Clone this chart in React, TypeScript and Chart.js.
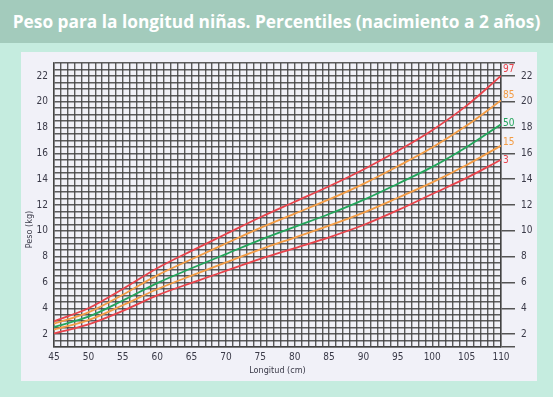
import { useEffect, useRef } from 'react';
import { Chart, registerables } from 'chart.js';

Chart.register(...registerables);

// Length (cm)
const lengths = [45, 50, 55, 60, 65, 70, 75, 80, 85, 90, 95, 100, 105, 110];
// Weight (kg) percentiles
const p3 = [2.05, 2.75, 3.8, 5.0, 5.97, 6.9, 7.82, 8.66, 9.5, 10.45, 11.6, 12.85, 14.1, 15.5];
const p15 = [2.35, 3.08, 4.23, 5.47, 6.53, 7.55, 8.56, 9.48, 10.4, 11.41, 12.56, 13.75, 15.1, 16.6];
const p50 = [2.55, 3.35, 4.6, 5.95, 7.1, 8.2, 9.3, 10.3, 11.3, 12.4, 13.65, 14.95, 16.5, 18.25];
const p85 = [2.8, 3.68, 5.05, 6.55, 7.8, 9.02, 10.23, 11.33, 12.43, 13.64, 15.0, 16.45, 18.15, 20.1];
const p97 = [3.0, 4.0, 5.5, 7.1, 8.45, 9.75, 11.05, 12.25, 13.45, 14.75, 16.2, 17.8, 19.7, 22.0];

const seriesNames = ['3', '15', '50', '85', '97'];
const seriesValues = [p3, p15, p50, p85, p97];
const seriesColors = ['#e8434b', '#f39c45', '#22a55b', '#f39c45', '#e8434b'];
const labelOffsets = [1, -3, -1, -5, -7];

const xTickLabels = [45, 50, 55, 60, 65, 70, 75, 80, 85, 90, 95, 100, 105, 110];
const yTickLabels = [2, 4, 6, 8, 10, 12, 14, 16, 18, 20, 22];

const TITLE = 'Peso para la longitud niñas. Percentiles (nacimiento a 2 años)';
const Y_TITLE = 'Peso (kg)';
const X_TITLE = 'Longitud (cm)';
const NARROW = "'Liberation Sans Narrow', 'DejaVu Sans Condensed', 'Liberation Sans', sans-serif";

export default function App() {
  const ref = useRef<HTMLCanvasElement>(null);

  useEffect(() => {
    if (!ref.current) return;
    const gridColor = 'rgba(65,65,65,0.85)';
    const textColor = '#3a3a48';

    const extras = {
      id: 'extras',
      afterDatasetsDraw(chart: any) {
        const { ctx, chartArea, scales } = chart;
        ctx.save();
        ctx.font = `10px ${NARROW}`;
        ctx.textAlign = 'left';
        ctx.textBaseline = 'middle';
        chart.data.datasets.forEach((ds: any, i: number) => {
          const last = ds.data[ds.data.length - 1];
          ctx.fillStyle = ds.borderColor;
          ctx.fillText(ds.label, chartArea.right + 2, scales.y.getPixelForValue(last.y) + labelOffsets[i]);
        });
        // y axis title
        ctx.fillStyle = textColor;
        ctx.font = `9px ${NARROW}`;
        ctx.textAlign = 'center';
        ctx.translate(30, scales.y.getPixelForValue(10.1));
        ctx.rotate(-Math.PI / 2);
        ctx.fillText(Y_TITLE, 0, 0);
        ctx.restore();
      },
    };

    const chart = new Chart(ref.current, {
      type: 'line',
      data: {
        datasets: seriesNames.map((name, i) => ({
          label: name,
          data: lengths.map((x, j) => ({ x, y: seriesValues[i][j] })),
          borderColor: seriesColors[i],
          backgroundColor: seriesColors[i],
          borderWidth: 1.8,
          pointRadius: 0,
          cubicInterpolationMode: 'monotone' as const,
          fill: false,
        })),
      },
      options: {
        responsive: false,
        animation: false,
        layout: { padding: { left: 21, top: 63, right: 16, bottom: 21 } },
        plugins: { legend: { display: false }, tooltip: { enabled: false } },
        scales: {
          x: {
            type: 'linear',
            position: 'bottom',
            min: 45,
            max: 110,
            ticks: {
              stepSize: 1,
              autoSkip: false,
              maxRotation: 0,
              padding: 4,
              color: textColor,
              font: { family: NARROW, size: 10 },
              callback: (v: any) => (xTickLabels.includes(Number(v)) ? String(v) : ''),
            },
            grid: { color: gridColor, lineWidth: 1.4, drawTicks: false },
            border: { color: gridColor, width: 1.5 },
            title: {
              display: true,
              text: X_TITLE,
              color: textColor,
              font: { family: NARROW, size: 9 },
              padding: { top: 2, bottom: 0 },
            },
            afterFit: (s: any) => { s.height = 29; },
          },
          y: {
            type: 'linear',
            position: 'left',
            min: 1,
            max: 23,
            ticks: {
              stepSize: 0.5,
              autoSkip: false,
              padding: 6,
              color: textColor,
              font: { family: NARROW, size: 10 },
              callback: (v: any) => (yTickLabels.includes(Number(v)) ? String(v) : ''),
            },
            grid: { color: gridColor, lineWidth: 1.4, drawTicks: false },
            border: { color: gridColor, width: 1.5 },
            afterFit: (s: any) => { s.width = 33; },
          },
          y2: {
            type: 'linear',
            position: 'right',
            min: 1,
            max: 23,
            afterBuildTicks: (s: any) => {
              s.ticks = [1, ...yTickLabels, 23].map((v) => ({ value: v }));
            },
            ticks: {
              autoSkip: false,
              padding: 6,
              color: textColor,
              font: { family: NARROW, size: 10 },
              callback: (v: any) => (yTickLabels.includes(Number(v)) ? String(v) : ''),
            },
            grid: { drawOnChartArea: false, drawTicks: true, tickLength: 14, color: '#555', lineWidth: 1.5 },
            border: { color: gridColor, width: 1.5 },
            afterFit: (s: any) => { s.width = 36; },
          },
        },
      },
      plugins: [extras],
    } as any);

    return () => chart.destroy();
  }, []);

  return (
    <div style={{ position: 'absolute', left: 0, top: 0, width: 553, height: 397, background: '#c5ecdf', overflow: 'hidden' }}>
      <div
        style={{
          position: 'absolute', left: 0, top: 0, width: 553, height: 43, background: '#a3cbbc', color: '#ffffff',
          fontFamily: "'Open Sans', sans-serif", fontWeight: 700, fontSize: 17.3,
          display: 'flex', alignItems: 'center', justifyContent: 'center', whiteSpace: 'nowrap',
        }}
      >
        {TITLE}
      </div>
      <div style={{ position: 'absolute', left: 21, top: 52, width: 516, height: 329, background: '#f1f1f8' }} />
      <canvas ref={ref} width={553} height={397} style={{ position: 'absolute', left: 0, top: 0, width: 553, height: 397 }} />
    </div>
  );
}
